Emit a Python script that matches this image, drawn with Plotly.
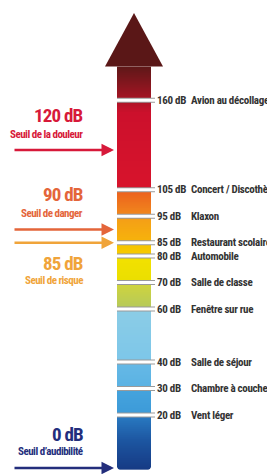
import plotly.graph_objects as go
import numpy as np

# ---------------- data ----------------
levels_db = [160, 105, 95, 85, 80, 70, 60, 40, 30, 20]
level_names = ["Avion au décollage", "Concert / Discothèque", "Klaxon",
               "Restaurant scolaire", "Automobile", "Salle de classe",
               "Fenêtre sur rue", "Salle de séjour", "Chambre à coucher",
               "Vent léger"]

threshold_db = [120, 90, 85, 0]
threshold_names = ["Seuil de la douleur", "Seuil de danger",
                   "Seuil de risque", "Seuil d’audibilité"]
threshold_colors = ["#d7193a", "#e4653a", "#f0a43a", "#232e7c"]
threshold_label_below = [False, False, True, False]

# ---------------- scale (illustrative: compressed above 120 dB) -------------
BREAK_DB = 120
COMPRESS = 0.47


def scale(db):
    return db if db <= BREAK_DB else BREAK_DB + (db - BREAK_DB) * COMPRESS


# page offset (browser body margin) and window size
PAGE_MARGIN = 8
WIN_W, WIN_H = 275, 474
PX_PER_UNIT = 2.65
ZERO_PX = 468

# geometry of the decoration (window pixels horizontally)
BAR_X0, BAR_X1 = 117, 151
BAR_BOTTOM = -0.8
BAR_TOP = 151.5
HEAD_TIP = 171.7
HEAD_HALF = 29
CORNER_R_X = 5
CORNER_R_Y = 5 / PX_PER_UNIT
TICK_X1 = 155
DB_TEXT_X = 155
NAME_TEXT_X = 189
LEFT_TEXT_X = 85
ARROW_X0, ARROW_X1 = 13, 114

FONT = "Roboto Condensed, DejaVu Sans Condensed, sans-serif"


def squeeze(txt, ls):
    return f'<span style="letter-spacing:{ls}px">{txt}</span>'


# colour bands of the bar: (value in display units, colour)
stops_u = [
    (BAR_BOTTOM, "#163a84"), (10, "#1c55a0"), (20, "#2a7cc4"),
    (20, "#3c9ad8"), (30, "#46a4dd"),
    (30, "#5ab2e3"), (40, "#66b9e6"),
    (40, "#7cc6e9"), (60, "#8ccde6"),
    (60, "#b4c95c"), (70, "#d2d53a"),
    (70, "#eadf00"), (80, "#f3e100"),
    (80, "#f6cb00"), (85, "#f6c200"),
    (85, "#f6b40a"), (95, "#f59c18"),
    (95, "#f18a1c"), (105, "#ec5e1e"),
    (105, "#d8142c"), (scale(150), "#cc102c"),
    (scale(160), "#a81424"), (BAR_TOP, "#5e1818"),
]
zmin, zmax = BAR_BOTTOM, BAR_TOP
colorscale = [[(u - zmin) / (zmax - zmin), c] for u, c in stops_u]
colorscale[0][0] = 0.0
colorscale[-1][0] = 1.0

y_edges = np.arange(BAR_BOTTOM, BAR_TOP + 0.001, 0.25)
y_cent = (y_edges[:-1] + y_edges[1:]) / 2
z = [[v] for v in y_cent]

fig = go.Figure()

fig.add_trace(go.Heatmap(
    x=[BAR_X0, BAR_X1], y=y_edges, z=z, colorscale=colorscale,
    zmin=zmin, zmax=zmax, showscale=False, hoverinfo="skip"))

# arrow head
cx = (BAR_X0 + BAR_X1) / 2
fig.add_trace(go.Scatter(
    x=[cx - HEAD_HALF, cx, cx + HEAD_HALF, cx - HEAD_HALF],
    y=[BAR_TOP, HEAD_TIP, BAR_TOP, BAR_TOP],
    fill="toself", fillcolor="#5a1717", mode="lines",
    line=dict(width=0, color="#5a1717"), hoverinfo="skip"))

# tick marks for each level
tx, ty = [], []
for db in levels_db:
    tx += [BAR_X0, TICK_X1, None]
    ty += [scale(db), scale(db), None]
fig.add_trace(go.Scatter(x=tx, y=ty, mode="lines",
                         line=dict(color="#9a9a9a", width=5), hoverinfo="skip"))
fig.add_trace(go.Scatter(x=tx, y=ty, mode="lines",
                         line=dict(color="#ffffff", width=3), hoverinfo="skip"))

# rounded bottom corners of the bar (white masks)
yb = BAR_BOTTOM
shapes = [
    dict(type="path", xref="x", yref="y", fillcolor="white", line_width=0,
         path=(f"M {BAR_X0 - 0.5},{yb - 0.2} L {BAR_X0 - 0.5},{yb + CORNER_R_Y} "
               f"Q {BAR_X0},{yb} {BAR_X0 + CORNER_R_X},{yb - 0.2} Z")),
    dict(type="path", xref="x", yref="y", fillcolor="white", line_width=0,
         path=(f"M {BAR_X1 + 0.5},{yb - 0.2} L {BAR_X1 + 0.5},{yb + CORNER_R_Y} "
               f"Q {BAR_X1},{yb} {BAR_X1 - CORNER_R_X},{yb - 0.2} Z")),
]

annotations = []
for db, name in zip(levels_db, level_names):
    annotations.append(dict(x=DB_TEXT_X, y=scale(db),
                            text=squeeze(f"<b>{db} dB</b>", -0.3),
                            xanchor="left", yanchor="middle", showarrow=False,
                            font=dict(family=FONT, size=11, color="#333333")))
    annotations.append(dict(x=NAME_TEXT_X, y=scale(db),
                            text=squeeze(f"<b>{name}</b>", -0.3),
                            xanchor="left", yanchor="middle", showarrow=False,
                            font=dict(family=FONT, size=11, color="#333333")))

for db, name, col, below in zip(threshold_db, threshold_names,
                                 threshold_colors, threshold_label_below):
    u = scale(db)
    annotations.append(dict(x=ARROW_X1, y=u, ax=ARROW_X0, ay=u,
                            axref="x", ayref="y", xref="x", yref="y",
                            text="", showarrow=True, arrowhead=2,
                            arrowsize=1, arrowwidth=2.5, arrowcolor=col))
    if below:
        big_shift, small_shift = -21, -38
    elif db == 0:
        big_shift, small_shift = 34, 17
    else:
        big_shift, small_shift = 35, 16
    annotations.append(dict(x=LEFT_TEXT_X, y=u, yshift=big_shift,
                            text=squeeze(f"<b>{db} dB</b>", -0.8),
                            xanchor="right",
                            yanchor="middle", showarrow=False,
                            font=dict(family=FONT, size=19, color=col)))
    annotations.append(dict(x=LEFT_TEXT_X, y=u, yshift=small_shift,
                            text=squeeze(f"<b>{name}</b>", -0.5),
                            xanchor="right",
                            yanchor="middle", showarrow=False,
                            font=dict(family=FONT, size=11, color=col)))

fig.update_layout(
    width=WIN_W - PAGE_MARGIN, height=WIN_H - PAGE_MARGIN,
    margin=dict(l=0, r=0, t=0, b=0),
    paper_bgcolor="white", plot_bgcolor="white",
    showlegend=False,
    xaxis=dict(range=[PAGE_MARGIN, WIN_W], visible=False, fixedrange=True),
    yaxis=dict(range=[(ZERO_PX - WIN_H) / PX_PER_UNIT,
                      (ZERO_PX - PAGE_MARGIN) / PX_PER_UNIT],
               visible=False, fixedrange=True),
    annotations=annotations,
    shapes=shapes,
)

fig.write_html("out.html", config={"displayModeBar": False})
